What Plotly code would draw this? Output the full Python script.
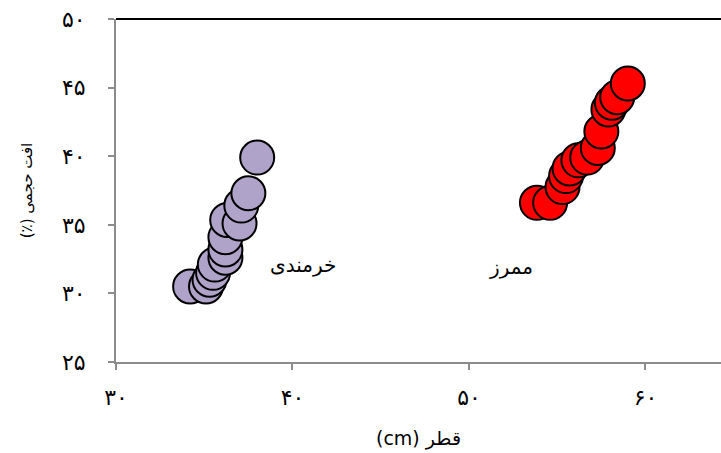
import plotly.graph_objects as go

# Diameter (cm) and volume loss (%) for the two sites
khormandi_x = [34.2, 35.1, 35.3, 35.5, 35.6, 36.2, 36.2, 36.2, 36.3, 37.0, 37.1, 37.5, 38.0]
khormandi_y = [30.5, 30.5, 31.0, 31.5, 32.1, 32.6, 33.2, 34.1, 35.35, 35.1, 36.4, 37.3, 39.9]

mamraz_x = [53.85, 54.6, 55.3, 55.5, 55.7, 56.2, 56.7, 57.3, 57.5, 57.9, 58.1, 58.4, 59.0]
mamraz_y = [36.6, 36.6, 37.75, 38.55, 39.1, 39.7, 39.9, 40.6, 41.8, 43.4, 43.9, 44.3, 45.3]

x_ticks = [30, 40, 50, 60]
x_tick_text = ["۳۰", "۴۰", "۵۰", "۶۰"]
y_ticks = [25, 30, 35, 40, 45, 50]
y_tick_text = ["۲۵", "۳۰", "۳۵", "۴۰", "۴۵", "۵۰"]

font = "DejaVu Sans"
axis_grey = "#8C8C8C"

fig = go.Figure()
fig.add_trace(go.Scatter(
    x=khormandi_x, y=khormandi_y, mode="markers",
    marker=dict(size=34, color="#B0A3C9", line=dict(color="black", width=2)),
    showlegend=False, cliponaxis=False,
))
fig.add_trace(go.Scatter(
    x=mamraz_x, y=mamraz_y, mode="markers",
    marker=dict(size=34, color="#FF0000", line=dict(color="black", width=2)),
    showlegend=False, cliponaxis=False,
))

fig.add_annotation(x=40.6, y=32.1, text="خرمندی", showarrow=False,
                   font=dict(family=font, size=20, color="black"))
fig.add_annotation(x=52.4, y=31.9, text="ممرز", showarrow=False,
                   font=dict(family=font, size=20, color="black"))

# black top border
fig.add_shape(type="line", xref="paper", yref="paper", x0=0, x1=1, y0=1, y1=1,
              line=dict(color="black", width=2))

fig.update_xaxes(
    range=[30, 64.28], tickvals=x_ticks, ticktext=x_tick_text,
    showgrid=False, zeroline=False, showline=True, linecolor=axis_grey, linewidth=2,
    ticks="outside", ticklen=6, tickwidth=2, tickcolor=axis_grey,
    ticklabelstandoff=9,
    tickfont=dict(family=font, size=22, color="black"),
    title=dict(text="(cm) قطر", font=dict(family=font, size=19, color="black"), standoff=22),
)
fig.update_yaxes(
    range=[25, 50], tickvals=y_ticks, ticktext=y_tick_text,
    showgrid=False, zeroline=False, showline=True, linecolor=axis_grey, linewidth=2,
    ticks="outside", ticklen=6, tickwidth=2, tickcolor=axis_grey,
    ticklabelstandoff=18,
    tickfont=dict(family=font, size=22, color="black"),
    title=dict(text="(٪) افت حجمی", font=dict(family=font, size=15, color="black"), standoff=26),
)

fig.update_layout(
    width=721, height=453,
    margin=dict(l=116, r=0, t=19, b=91),
    plot_bgcolor="white", paper_bgcolor="white",
)

fig.write_html("out.html")
